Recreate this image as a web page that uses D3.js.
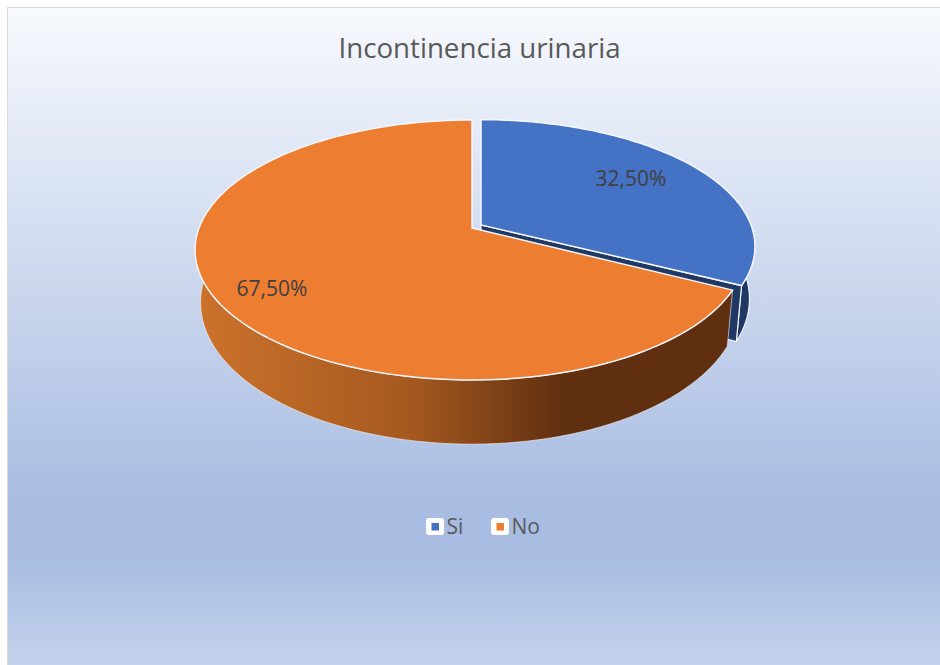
<!DOCTYPE html>
<html>
<head>
<meta charset="utf-8">
<script src="https://cdn.jsdelivr.net/npm/d3@7"></script>
<style>
    html, body { margin: 0; padding: 0; background: #fff; }
    svg { display: block; }
    text { font-family: "Open Sans", sans-serif; }
</style>
</head>
<body>
<svg id="chart" width="940" height="665"></svg>
<script>
const categories = ["Si", "No"];
const values = [32.5, 67.5];
const chartTitle = "Incontinencia urinaria";

const colors = d3.scaleOrdinal().domain(categories).range(["#4472c4", "#ed7d31"]);
const fmt = d3.formatLocale({ decimal: ",", thousands: ".", grouping: [3], currency: ["", ""] }).format(".2f");

const svg = d3.select("#chart");
const defs = svg.append("defs");

let bg = defs.append("linearGradient").attr("id", "bg").attr("x1", 0).attr("y1", 0).attr("x2", 0).attr("y2", 1);
[[0, "#f7f9fd"], [0.74, "#a9bde2"], [0.83, "#a9bde2"], [1, "#c5d3ec"]].forEach(s => {
    bg.append("stop").attr("offset", s[0]).attr("stop-color", s[1]);
});

// orange wall gets darker going right, same as the office 3d shading
let wall = defs.append("linearGradient").attr("id", "wallNo").attr("gradientUnits", "userSpaceOnUse")
    .attr("x1", 200).attr("y1", 0).attr("x2", 735).attr("y2", 0);
[[0, "#cb722c"], [0.4, "#a4581f"], [0.68, "#5f2f10"], [1, "#5f2f10"]].forEach(s => {
    wall.append("stop").attr("offset", s[0]).attr("stop-color", s[1]);
});

svg.append("rect").attr("x", 7.5).attr("y", 7.5).attr("width", 940).attr("height", 665)
    .attr("fill", "url(#bg)").attr("stroke", "#d9d9d9");

svg.append("text").attr("x", 479.5).attr("y", 58).attr("text-anchor", "middle")
    .attr("font-size", "27.7px").attr("fill", "#595959").text(chartTitle);

// perspective of the pie disc
const tilt = 0.169, scaleLeft = 273, scaleRight = 270, scaleY = 126.3;
const depth = 50.5, bottomX = 0.98, bottomY = 1.09;
const apex = { Si: [481, 225], No: [472, 228] };
const flatten = { Si: 0.975, No: 1 };

function project(name, angle, bottom) {
    let u = Math.sin(angle), v = -Math.cos(angle), w = 1 - tilt * v;
    let x = (u > 0 ? scaleRight : scaleLeft) * u / w, y = flatten[name] * scaleY * v / w;
    if (bottom) return [apex[name][0] + bottomX * x, apex[name][1] + depth + bottomY * y];
    return [apex[name][0] + x, apex[name][1] + y];
}

const line = d3.line();
function arcPoints(name, a0, a1, bottom) {
    return d3.range(0, 121).map(i => project(name, a0 + (a1 - a0) * i / 120, bottom));
}
function topPath(d) {
    let name = d.data.name;
    return line([apex[name]].concat(arcPoints(name, d.startAngle, d.endAngle, false))) + "Z";
}
function wallPath(d) {
    let name = d.data.name;
    return line(arcPoints(name, d.startAngle, d.endAngle, false)
        .concat(arcPoints(name, d.endAngle, d.startAngle, true))) + "Z";
}
function facePath(d) {
    let name = d.data.name, a = project(name, d.endAngle, false), b = project(name, d.endAngle, true);
    let c = [apex[name][0], apex[name][1] + depth];
    return line([apex[name], a, b, c]) + "Z";
}

const slices = d3.pie().sort(null).value(d => d.value)(categories.map((c, i) => ({ name: c, value: values[i] })));
const si = slices[0], no = slices[1];
const edge = "#f4f6fb";

const pie = svg.append("g");
pie.append("path").attr("d", wallPath(si)).attr("fill", "#1f3864").attr("stroke", edge).attr("stroke-width", 1.2);
pie.append("path").attr("d", facePath(si)).attr("fill", "#1f3864").attr("stroke", edge).attr("stroke-width", 1.2);
pie.append("path").attr("d", wallPath(no)).attr("fill", "url(#wallNo)").attr("stroke", edge).attr("stroke-width", 0.6);
pie.append("path").attr("d", topPath(no)).attr("fill", colors("No")).attr("stroke", edge).attr("stroke-width", 1.5);
pie.append("path").attr("d", topPath(si)).attr("fill", colors("Si")).attr("stroke", edge).attr("stroke-width", 1.5);

const labelPos = [[631, 186], [272, 296]];
svg.selectAll(".datalabel").data(slices).join("text").attr("class", "datalabel")
    .attr("x", (d, i) => labelPos[i][0]).attr("y", (d, i) => labelPos[i][1])
    .attr("text-anchor", "middle").attr("font-size", "21px").attr("fill", "#404040")
    .text(d => fmt(d.data.value) + "%");

const legendX = d3.scaleOrdinal().domain(categories).range([426, 491]);
const legend = svg.selectAll(".legenditem").data(categories).join("g").attr("class", "legenditem")
    .attr("transform", d => `translate(${legendX(d)},518)`);
legend.append("rect").attr("width", 18).attr("height", 17).attr("rx", 3).attr("fill", "#fff");
legend.append("rect").attr("x", 5.5).attr("y", 5).attr("width", 7.5).attr("height", 7.5).attr("fill", d => colors(d));
legend.append("text").attr("x", 20.5).attr("y", 16).attr("font-size", "21px").attr("fill", "#595959").text(d => d);
</script>
</body>
</html>
